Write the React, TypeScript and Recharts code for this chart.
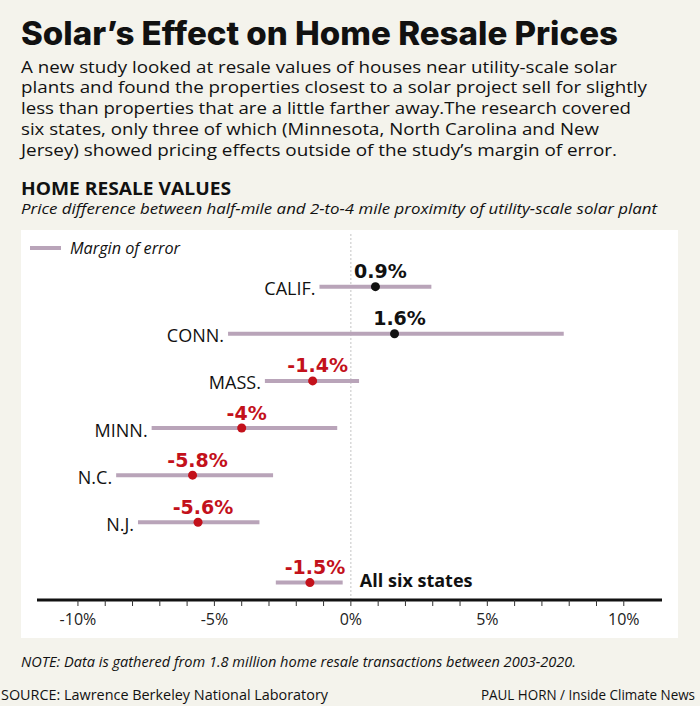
import React from "react";
import { ScatterChart, Scatter, XAxis, YAxis, ErrorBar, ReferenceLine } from "recharts";

// price difference (%) by state, with margin-of-error ends
const states = ["CALIF.", "CONN.", "MASS.", "MINN.", "N.C.", "N.J.", "All six states"];
const effect = [0.9, 1.6, -1.4, -4, -5.8, -5.6, -1.5];
const errLow = [-1.15, -4.5, -3.15, -7.3, -8.6, -7.8, -2.75];
const errHigh = [2.95, 7.8, 0.3, -0.5, -2.85, -3.35, -0.3];
const xTicks = [-10, -9, -8, -7, -6, -5, -4, -3, -2, -1, 0, 1, 2, 3, 4, 5, 6, 7, 8, 9, 10];

const intro = [
  ["A new study looked at resale values of houses near utility-scale solar", 596],
  ["plants and found the properties closest to a solar project sell for slightly", 626],
  ["less than properties that are a little farther away.The research covered", 610],
  ["six states, only three of which (Minnesota, North Carolina and New", 578],
  ["Jersey) showed pricing effects outside of the study\u2019s margin of error.", 596],
] as const;

const BG = "#f4f3ec";
const MOE = "#b9a4b9";
const RED = "#c3111b";
const INK = "#111";
const SANS = "'Open Sans', 'Noto Sans', sans-serif";
const SUMMARY_GAP = 0.28;

const last = states.length - 1;
const rowOf = (i: number) => (i === last ? i + SUMMARY_GAP : i);

const points = states.map((name, i) => ({
  name,
  x: effect[i],
  y: rowOf(i),
  err: [effect[i] - errLow[i], errHigh[i] - effect[i]],
}));

const nameAnchors = states.map((name, i) => ({
  name,
  x: i === last ? 0 : errLow[i],
  y: rowOf(i),
  summary: i === last,
}));

const DotWithValue = (props: any) => {
  const { cx, cy, payload } = props;
  const color = payload.x < 0 ? RED : INK;
  return (
    <g>
      <circle cx={cx} cy={cy} r={4.5} fill={color} />
      <text
        x={cx + 5}
        y={cy - 8.5}
        textAnchor="middle"
        fontFamily="'DejaVu Sans', sans-serif"
        fontWeight={700}
        fontSize={19}
        fill={color}
      >
        {payload.x}%
      </text>
    </g>
  );
};

const NameTag = (props: any) => {
  const { cx, cy, payload } = props;
  if (payload.summary) {
    return (
      <text x={cx + 9} y={cy + 4} fontFamily={SANS} fontWeight={700} fontSize={18} fill={INK}>
        {payload.name}
      </text>
    );
  }
  return (
    <text x={cx - 4} y={cy + 8.5} textAnchor="end" fontFamily={SANS} fontSize={18} fill={INK}>
      {payload.name}
    </text>
  );
};

export default function App() {
  return (
    <div
      style={{
        position: "absolute",
        left: 0,
        top: 0,
        width: 700,
        height: 706,
        background: BG,
        overflow: "hidden",
      }}
    >
      <div
        style={{ position: "absolute", left: 21, top: 230, width: 657, height: 408, background: "#fff" }}
      />
      <div style={{ position: "absolute", left: 0, top: 0 }}>
        <ScatterChart width={700} height={706} margin={{ top: 232.5, right: 38, bottom: 76, left: 37 }}>
          <XAxis
            type="number"
            dataKey="x"
            domain={[-11.5, 11.4]}
            ticks={xTicks}
            interval={0}
            allowDataOverflow
            tickFormatter={(v: number) => (v % 5 === 0 ? `${v}%` : "")}
            axisLine={{ stroke: INK, strokeWidth: 3 }}
            tickLine={{ stroke: "#333" }}
            tickSize={6}
            tickMargin={8}
            tick={{ fill: "#222", fontSize: 16, fontFamily: SANS }}
            height={30}
          />
          <YAxis type="number" dataKey="y" domain={[-1.15, 6.65]} reversed hide allowDataOverflow />
          <ReferenceLine x={0} stroke="#c4c4c4" strokeDasharray="2 2" />
          <Scatter data={nameAnchors} shape={NameTag} isAnimationActive={false} />
          <Scatter data={points} shape={DotWithValue} isAnimationActive={false}>
            <ErrorBar
              dataKey="err"
              direction="x"
              width={0}
              stroke={MOE}
              strokeWidth={4}
              isAnimationActive={false}
            />
          </Scatter>
        </ScatterChart>
      </div>
      <svg
        width={700}
        height={706}
        style={{ position: "absolute", left: 0, top: 0, pointerEvents: "none" }}
      >
        <text
          x={21}
          y={45}
          fontFamily="Inter, 'Liberation Sans', sans-serif"
          fontWeight={800}
          fontSize={32}
          textLength={597}
          lengthAdjust="spacingAndGlyphs"
          fill={INK}
        >
          Solar’s Effect on Home Resale Prices
        </text>
        {intro.map(([line, w], i) => (
          <text
            key={i}
            x={21}
            y={72.5 + i * 20.85}
            fontFamily={SANS}
            fontSize={17}
            textLength={w}
            lengthAdjust="spacingAndGlyphs"
            fill={INK}
          >
            {line}
          </text>
        ))}
        <text
          x={21}
          y={194.5}
          fontFamily={SANS}
          fontWeight={700}
          fontSize={17}
          textLength={210}
          lengthAdjust="spacingAndGlyphs"
          fill={INK}
        >
          HOME RESALE VALUES
        </text>
        <text
          x={21}
          y={214}
          fontFamily={SANS}
          fontStyle="italic"
          fontSize={15}
          textLength={636}
          lengthAdjust="spacingAndGlyphs"
          fill={INK}
        >
          Price difference between half-mile and 2-to-4 mile proximity of utility-scale solar plant
        </text>
        <line x1={30} y1={248} x2={61} y2={248} stroke={MOE} strokeWidth={4} />
        <text
          x={70}
          y={254}
          fontFamily={SANS}
          fontStyle="italic"
          fontSize={16}
          textLength={110}
          lengthAdjust="spacingAndGlyphs"
          fill={INK}
        >
          Margin of error
        </text>
        <text
          x={21}
          y={667}
          fontFamily={SANS}
          fontStyle="italic"
          fontSize={15}
          textLength={555}
          lengthAdjust="spacingAndGlyphs"
          fill={INK}
        >
          NOTE: Data is gathered from 1.8 million home resale transactions between 2003-2020.
        </text>
        <text
          x={1}
          y={700}
          fontFamily={SANS}
          fontSize={15}
          textLength={327}
          lengthAdjust="spacingAndGlyphs"
          fill={INK}
        >
          SOURCE: Lawrence Berkeley National Laboratory
        </text>
        <text
          x={481}
          y={700}
          fontFamily={SANS}
          fontSize={15}
          textLength={214}
          lengthAdjust="spacingAndGlyphs"
          fill={INK}
        >
          PAUL HORN / Inside Climate News
        </text>
      </svg>
    </div>
  );
}
